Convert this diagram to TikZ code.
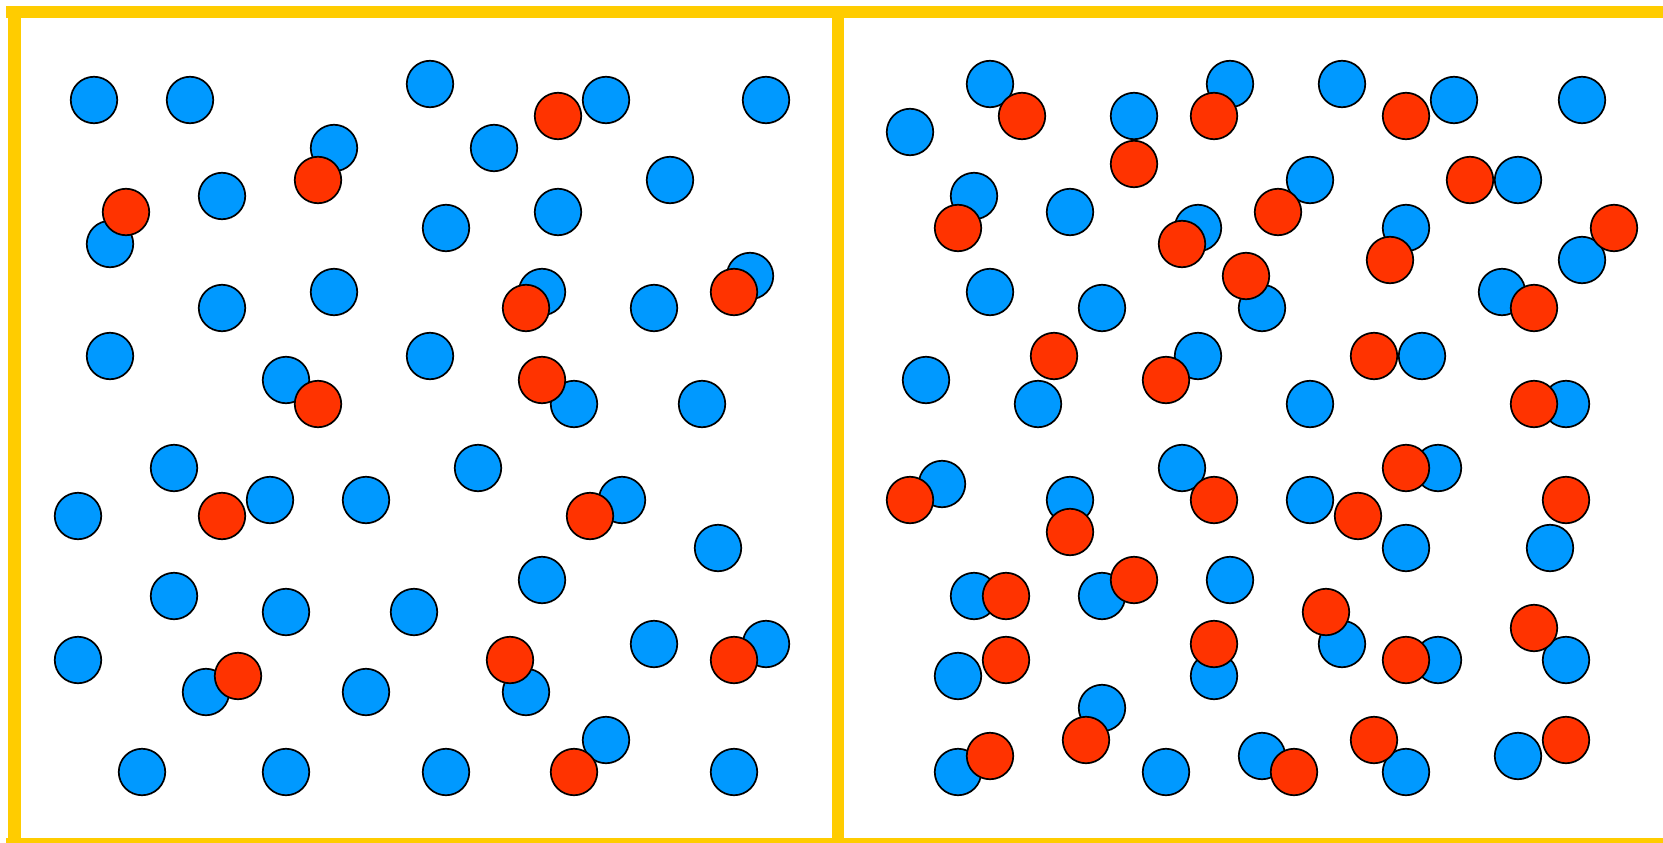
\documentclass[tikz,border=0pt]{standalone}
\definecolor{ballblue}{RGB}{0,153,255}
\definecolor{ballred}{RGB}{255,51,0}
\definecolor{wallyellow}{RGB}{255,204,0}
\begin{document}
\begin{tikzpicture}[x=1pt, y=-1pt,
  blueball/.style={circle, draw, line width=1.7pt, fill=ballblue, inner sep=0pt, minimum size=46.5pt},
  redball/.style={circle, draw, line width=1.7pt, fill=ballred, inner sep=0pt, minimum size=46.5pt}]
\useasboundingbox (0,0) rectangle (1663,843);
\fill[white] (0,0) rectangle (1663,843);

% walls
\fill[wallyellow] (6,6) rectangle (1663,18);
\fill[wallyellow] (8,18) rectangle (21,838);
\fill[wallyellow] (832,18) rectangle (844,838);
\fill[wallyellow] (6,838) rectangle (1663,843);

% left box, blue
\node[blueball] (lb1) at (94,100) {};
\node[blueball] (lb2) at (190,100) {};
\node[blueball] (lb3) at (334,148) {};
\node[blueball] (lb4) at (110,244) {};
\node[blueball] (lb5) at (222,196) {};
\node[blueball] (lb6) at (222,308) {};
\node[blueball] (lb7) at (334,292) {};
\node[blueball] (lb8) at (110,356) {};
\node[blueball] (lb9) at (286,380) {};
\node[blueball] (lb10) at (430,84) {};
\node[blueball] (lb11) at (606,100) {};
\node[blueball] (lb12) at (766,100) {};
\node[blueball] (lb13) at (494,148) {};
\node[blueball] (lb14) at (670,180) {};
\node[blueball] (lb15) at (446,228) {};
\node[blueball] (lb16) at (558,212) {};
\node[blueball] (lb17) at (542,292) {};
\node[blueball] (lb18) at (654,308) {};
\node[blueball] (lb19) at (750,276) {};
\node[blueball] (lb20) at (430,356) {};
\node[blueball] (lb21) at (574,404) {};
\node[blueball] (lb22) at (702,404) {};
\node[blueball] (lb23) at (174,468) {};
\node[blueball] (lb24) at (78,516) {};
\node[blueball] (lb25) at (270,500) {};
\node[blueball] (lb26) at (366,500) {};
\node[blueball] (lb27) at (174,596) {};
\node[blueball] (lb28) at (286,612) {};
\node[blueball] (lb29) at (78,660) {};
\node[blueball] (lb30) at (206,692) {};
\node[blueball] (lb31) at (366,692) {};
\node[blueball] (lb32) at (142,772) {};
\node[blueball] (lb33) at (286,772) {};
\node[blueball] (lb34) at (478,468) {};
\node[blueball] (lb35) at (622,500) {};
\node[blueball] (lb36) at (718,548) {};
\node[blueball] (lb37) at (542,580) {};
\node[blueball] (lb38) at (414,612) {};
\node[blueball] (lb39) at (526,692) {};
\node[blueball] (lb40) at (654,644) {};
\node[blueball] (lb41) at (766,644) {};
\node[blueball] (lb42) at (606,740) {};
\node[blueball] (lb43) at (446,772) {};
\node[blueball] (lb44) at (734,772) {};

% left box, red
\node[redball] (lr1) at (318,180) {};
\node[redball] (lr2) at (126,212) {};
\node[redball] (lr3) at (318,404) {};
\node[redball] (lr4) at (558,116) {};
\node[redball] (lr5) at (526,308) {};
\node[redball] (lr6) at (734,292) {};
\node[redball] (lr7) at (542,380) {};
\node[redball] (lr8) at (222,516) {};
\node[redball] (lr9) at (238,676) {};
\node[redball] (lr10) at (590,516) {};
\node[redball] (lr11) at (510,660) {};
\node[redball] (lr12) at (734,660) {};
\node[redball] (lr13) at (574,772) {};

% right box, blue
\node[blueball] (rb1) at (990,84) {};
\node[blueball] (rb2) at (910,132) {};
\node[blueball] (rb3) at (1134,116) {};
\node[blueball] (rb4) at (1230,84) {};
\node[blueball] (rb5) at (974,196) {};
\node[blueball] (rb6) at (1070,212) {};
\node[blueball] (rb7) at (1198,228) {};
\node[blueball] (rb8) at (1262,308) {};
\node[blueball] (rb9) at (990,292) {};
\node[blueball] (rb10) at (1102,308) {};
\node[blueball] (rb11) at (926,380) {};
\node[blueball] (rb12) at (1038,404) {};
\node[blueball] (rb13) at (1198,356) {};
\node[blueball] (rb14) at (1342,84) {};
\node[blueball] (rb15) at (1454,100) {};
\node[blueball] (rb16) at (1582,100) {};
\node[blueball] (rb17) at (1310,180) {};
\node[blueball] (rb18) at (1518,180) {};
\node[blueball] (rb19) at (1406,228) {};
\node[blueball] (rb20) at (1582,260) {};
\node[blueball] (rb21) at (1502,292) {};
\node[blueball] (rb22) at (1422,356) {};
\node[blueball] (rb23) at (1310,404) {};
\node[blueball] (rb24) at (1566,404) {};
\node[blueball] (rb25) at (942,484) {};
\node[blueball] (rb26) at (1070,500) {};
\node[blueball] (rb27) at (1182,468) {};
\node[blueball] (rb28) at (974,596) {};
\node[blueball] (rb29) at (1102,596) {};
\node[blueball] (rb30) at (1230,580) {};
\node[blueball] (rb31) at (958,676) {};
\node[blueball] (rb32) at (1214,676) {};
\node[blueball] (rb33) at (1102,708) {};
\node[blueball] (rb34) at (958,772) {};
\node[blueball] (rb35) at (1166,772) {};
\node[blueball] (rb36) at (1262,756) {};
\node[blueball] (rb37) at (1438,468) {};
\node[blueball] (rb38) at (1310,500) {};
\node[blueball] (rb39) at (1406,548) {};
\node[blueball] (rb40) at (1550,548) {};
\node[blueball] (rb41) at (1342,644) {};
\node[blueball] (rb42) at (1438,660) {};
\node[blueball] (rb43) at (1566,660) {};
\node[blueball] (rb44) at (1406,772) {};
\node[blueball] (rb45) at (1518,756) {};

% right box, red
\node[redball] (rr1) at (1022,116) {};
\node[redball] (rr2) at (1134,164) {};
\node[redball] (rr3) at (1214,116) {};
\node[redball] (rr4) at (958,228) {};
\node[redball] (rr5) at (1182,244) {};
\node[redball] (rr6) at (1246,276) {};
\node[redball] (rr7) at (1054,356) {};
\node[redball] (rr8) at (1166,380) {};
\node[redball] (rr9) at (1406,116) {};
\node[redball] (rr10) at (1278,212) {};
\node[redball] (rr11) at (1470,180) {};
\node[redball] (rr12) at (1390,260) {};
\node[redball] (rr13) at (1614,228) {};
\node[redball] (rr14) at (1534,308) {};
\node[redball] (rr15) at (1374,356) {};
\node[redball] (rr16) at (1534,404) {};
\node[redball] (rr17) at (910,500) {};
\node[redball] (rr18) at (1070,532) {};
\node[redball] (rr19) at (1214,500) {};
\node[redball] (rr20) at (1006,596) {};
\node[redball] (rr21) at (1134,580) {};
\node[redball] (rr22) at (1006,660) {};
\node[redball] (rr23) at (1214,644) {};
\node[redball] (rr24) at (1086,740) {};
\node[redball] (rr25) at (990,756) {};
\node[redball] (rr26) at (1406,468) {};
\node[redball] (rr27) at (1358,516) {};
\node[redball] (rr28) at (1566,500) {};
\node[redball] (rr29) at (1326,612) {};
\node[redball] (rr30) at (1406,660) {};
\node[redball] (rr31) at (1534,628) {};
\node[redball] (rr32) at (1294,772) {};
\node[redball] (rr33) at (1374,740) {};
\node[redball] (rr34) at (1566,740) {};
\end{tikzpicture}
\end{document}
